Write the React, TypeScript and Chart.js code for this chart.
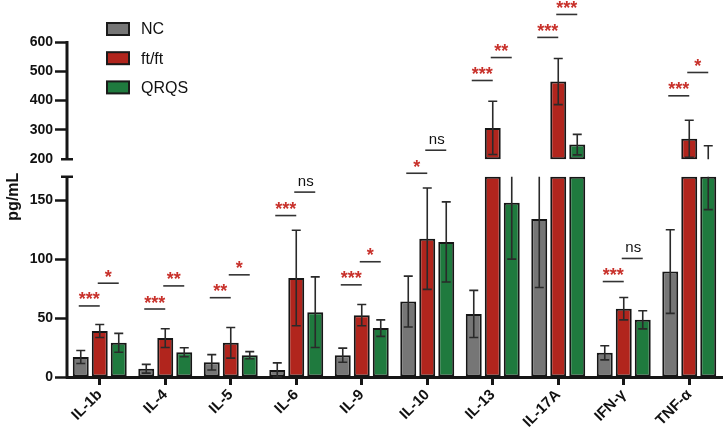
import React, { useEffect, useRef } from 'react';
import { Chart, registerables, LinearScale } from 'chart.js';

Chart.register(...registerables);

// ---- data ----
const categories = ['IL-1b', 'IL-4', 'IL-5', 'IL-6', 'IL-9', 'IL-10', 'IL-13', 'IL-17A', 'IFN-γ', 'TNF-α'];
const seriesNames = ['NC', 'ft/ft', 'QRQS'];
const ncMean = [17, 7, 12.5, 6, 18.5, 64, 53.5, 134, 20.5, 89.5];
const ncSd = [5.5, 3.7, 6.5, 6, 6, 21.6, 20, 58, 6, 35.5];
const ftMean = [39, 33, 29, 84, 52.5, 117.4, 307, 465, 58, 270];
const ftSd = [5.5, 8, 13, 40.5, 9, 43, 91, 78.5, 9.5, 63];
const qrqsMean = [29, 21, 18.5, 55, 41.5, 114.6, 147.8, 250, 48.5, 194];
const qrqsSd = [8, 3.8, 3, 30, 7, 34, 47.8, 35, 7.7, 52];
const sigLeftLevel = [60.3, 57.7, 67.3, 137, 78.2, 175.9, 468.7, 615.7, 81, 416.4];
const sigLeftText = ['***', '***', '**', '***', '***', '*', '***', '***', '***', '***'];
const sigRightLevel = [79.6, 77.3, 86.7, 156.9, 97.8, 230.8, 547, 694, 100.6, 496];
const sigRightText = ['*', '**', '*', 'ns', '*', 'ns', '**', '***', 'ns', '*'];
const yTicks = [0, 50, 100, 150, 200, 300, 400, 500, 600];
const yTitle = 'pg/mL';

// ---- axis break ----
const LOW_MAX = 170;
const HIGH_MIN = 200;
const HIGH_MAX = 600;
const LOW_FRAC = 0.598;
const GAP_FRAC = 0.052;

const COLORS = ['#767676', '#b1251d', '#1f7a3e'];
const BORDER = '#161616';
const FONT = '"Liberation Sans", Arial, Helvetica, sans-serif';

class BrokenScale extends (LinearScale as any) {
  static id = 'broken';
  static defaults = (LinearScale as any).defaults;
  segs() {
    const h = this.bottom - this.top;
    const lowH = h * LOW_FRAC;
    const gapH = h * GAP_FRAC;
    const highH = h - lowH - gapH;
    return { lowH, gapH, highH };
  }
  getPixelForValue(value: number) {
    const { lowH, gapH, highH } = this.segs();
    if (value <= LOW_MAX) return this.bottom - (value / LOW_MAX) * lowH;
    if (value <= HIGH_MIN) return this.bottom - lowH - ((value - LOW_MAX) / (HIGH_MIN - LOW_MAX)) * gapH;
    return this.bottom - lowH - gapH - ((value - HIGH_MIN) / (HIGH_MAX - HIGH_MIN)) * highH;
  }
  getValueForPixel(pixel: number) {
    const { lowH, gapH, highH } = this.segs();
    const d = this.bottom - pixel;
    if (d <= lowH) return (d / lowH) * LOW_MAX;
    if (d <= lowH + gapH) return LOW_MAX + ((d - lowH) / gapH) * (HIGH_MIN - LOW_MAX);
    return HIGH_MIN + ((d - lowH - gapH) / highH) * (HIGH_MAX - HIGH_MIN);
  }
}
Chart.register(BrokenScale as any);

const means = [ncMean, ftMean, qrqsMean];
const sds = [ncSd, ftSd, qrqsSd];

const breakPlugin = {
  id: 'breakAxis',
  afterDraw(chart: any) {
    const ctx = chart.ctx;
    const y = chart.scales.y;
    const x0 = chart.chartArea.left;
    ctx.save();
    ctx.strokeStyle = BORDER;
    ctx.lineCap = 'butt';
    ctx.lineWidth = 3;
    ctx.beginPath();
    ctx.moveTo(x0, y.getPixelForValue(0) + 1.5);
    ctx.lineTo(x0, y.getPixelForValue(LOW_MAX));
    ctx.moveTo(x0, y.getPixelForValue(HIGH_MIN));
    ctx.lineTo(x0, y.getPixelForValue(HIGH_MAX) - 1);
    ctx.stroke();
    ctx.lineWidth = 2.5;
    ctx.beginPath();
    [LOW_MAX, HIGH_MIN].forEach((v) => {
      const py = y.getPixelForValue(v);
      ctx.moveTo(x0 - 6, py);
      ctx.lineTo(x0 + 6, py);
    });
    ctx.stroke();
    // axis title, centred just below the break
    ctx.translate(14, y.getPixelForValue(LOW_MAX) + 20);
    ctx.rotate(-Math.PI / 2);
    ctx.fillStyle = '#111';
    ctx.font = `bold 16px ${FONT}`;
    ctx.textAlign = 'center';
    ctx.textBaseline = 'middle';
    ctx.fillText(yTitle, 0, 0);
    ctx.restore();
  },
};

const errorPlugin = {
  id: 'errorBars',
  afterDatasetsDraw(chart: any) {
    const ctx = chart.ctx;
    const y = chart.scales.y;
    ctx.save();
    ctx.strokeStyle = '#2a2a2a';
    ctx.lineWidth = 1.6;
    const segments = [[0, LOW_MAX], [HIGH_MIN, HIGH_MAX]];
    for (let s = 0; s < 3; s++) {
      const meta = chart.getDatasetMeta(s);
      for (let i = 0; i < categories.length; i++) {
        const el = meta.data[i];
        if (!el) continue;
        const cx = el.x;
        const lo = means[s][i] - sds[s][i];
        const hi = means[s][i] + sds[s][i];
        ctx.beginPath();
        segments.forEach(([a, b]) => {
          const l = Math.max(lo, a);
          const h = Math.min(hi, b);
          if (l < h) {
            ctx.moveTo(cx, y.getPixelForValue(l));
            ctx.lineTo(cx, y.getPixelForValue(h));
          }
          [lo, hi].forEach((v) => {
            if (v >= a && v <= b) {
              const py = y.getPixelForValue(v);
              ctx.moveTo(cx - 4.5, py);
              ctx.lineTo(cx + 4.5, py);
            }
          });
        });
        ctx.stroke();
      }
    }
    ctx.restore();
  },
};

const sigPlugin = {
  id: 'significance',
  afterDraw(chart: any) {
    const ctx = chart.ctx;
    const y = chart.scales.y;
    const m = [0, 1, 2].map((s) => chart.getDatasetMeta(s).data);
    ctx.save();
    for (let i = 0; i < categories.length; i++) {
      const pairs = [
        { a: m[0][i].x, b: m[1][i].x, level: sigLeftLevel[i], text: sigLeftText[i] },
        { a: m[1][i].x, b: m[2][i].x, level: sigRightLevel[i], text: sigRightText[i] },
      ];
      pairs.forEach((p) => {
        const cx = (p.a + p.b) / 2 - 1;
        const py = y.getPixelForValue(p.level);
        ctx.strokeStyle = '#333';
        ctx.lineWidth = 1.6;
        ctx.beginPath();
        ctx.moveTo(cx - 10.5, py);
        ctx.lineTo(cx + 10.5, py);
        ctx.stroke();
        ctx.textAlign = 'center';
        ctx.textBaseline = 'alphabetic';
        if (p.text === 'ns') {
          ctx.fillStyle = '#111';
          ctx.font = `15px ${FONT}`;
          ctx.fillText(p.text, cx + 1, py - 6.5);
        } else {
          ctx.fillStyle = '#c8312b';
          ctx.font = `bold 18px ${FONT}`;
          ctx.fillText(p.text, cx, py - 0.5);
        }
      });
    }
    ctx.restore();
  },
};

const legendPlugin = {
  id: 'customLegend',
  afterDraw(chart: any) {
    const ctx = chart.ctx;
    const { left, top } = chart.chartArea;
    ctx.save();
    seriesNames.forEach((name, k) => {
      const cy = top - 13 + k * 29.2;
      const bx = left + 40;
      ctx.fillStyle = COLORS[k];
      ctx.fillRect(bx, cy - 6, 22, 12);
      ctx.strokeStyle = '#1a1a1a';
      ctx.lineWidth = 2;
      ctx.strokeRect(bx, cy - 6, 22, 12);
      ctx.fillStyle = '#111';
      ctx.font = `16px ${FONT}`;
      ctx.textAlign = 'left';
      ctx.textBaseline = 'middle';
      ctx.fillText(name, bx + 34, cy + 1);
    });
    ctx.restore();
  },
};

export default function App() {
  const ref = useRef<HTMLCanvasElement | null>(null);
  useEffect(() => {
    if (!ref.current) return;
    Chart.defaults.font.family = FONT;
    const lower = means.map((arr, s) => ({
      label: seriesNames[s],
      stack: seriesNames[s],
      data: arr.map((v) => [0, Math.min(v, LOW_MAX)]),
      backgroundColor: COLORS[s],
      borderColor: BORDER,
      borderWidth: 2,
      borderSkipped: false,
    }));
    const upper = means.map((arr, s) => ({
      label: seriesNames[s] + ' (upper)',
      stack: seriesNames[s],
      data: arr.map((v) => (v > HIGH_MIN ? [HIGH_MIN, v] : null)),
      backgroundColor: COLORS[s],
      borderColor: BORDER,
      borderWidth: 2,
      borderSkipped: false,
    }));
    const chart = new Chart(ref.current, {
      type: 'bar',
      data: { labels: categories, datasets: [...lower, ...upper] as any },
      options: {
        animation: false,
        responsive: false,
        categoryPercentage: 0.87,
        barPercentage: 0.84,
        layout: { padding: { top: 42, right: 2, left: 0, bottom: 0 } },
        plugins: { legend: { display: false }, tooltip: { enabled: false } },
        scales: {
          x: {
            type: 'category',
            stacked: true,
            offset: true,
            grid: { display: true, drawOnChartArea: false, offset: false, tickLength: 8, tickWidth: 3, tickColor: BORDER },
            border: { display: true, width: 3, color: BORDER },
            ticks: { color: '#111', font: { size: 15, weight: 'bold' }, minRotation: 45, maxRotation: 45, padding: 1, autoSkip: false },
            afterFit: (s: any) => { s.height = 57; },
          },
          y: {
            type: 'broken' as any,
            min: 0,
            max: HIGH_MAX,
            stacked: false,
            grid: {
              display: true,
              drawOnChartArea: false,
              tickLength: 12,
              tickWidth: 2.5,
              tickColor: (c: any) => (c.tick && c.tick.value === HIGH_MIN ? 'rgba(0,0,0,0)' : BORDER),
            },
            border: { display: false },
            ticks: { color: '#111', font: { size: 14, weight: 'bold' }, padding: 2, autoSkip: false, callback: (v: any) => String(v) },
            afterBuildTicks: (s: any) => { s.ticks = yTicks.map((v) => ({ value: v })); },
            afterFit: (s: any) => { s.width = 67; },
          } as any,
        },
      } as any,
      plugins: [errorPlugin, breakPlugin, sigPlugin, legendPlugin],
    });
    return () => chart.destroy();
  }, []);
  return (
    <div style={{ position: 'absolute', left: 0, top: 0, width: 724, height: 434, background: '#fff' }}>
      <canvas ref={ref} width={724} height={434} style={{ width: 724, height: 434, display: 'block' }} />
    </div>
  );
}
